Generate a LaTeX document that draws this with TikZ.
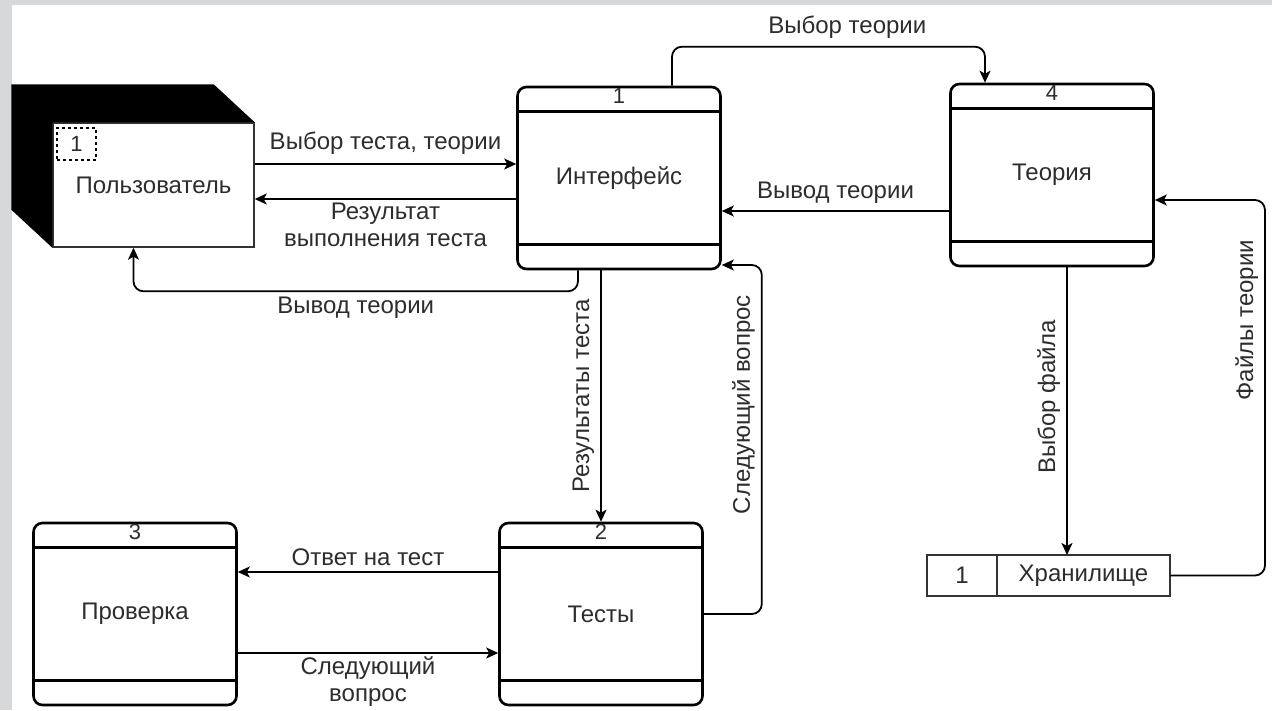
\documentclass[tikz,border=0pt]{standalone}
\usepackage{fontspec}
\setmainfont{Liberation Sans}
\usetikzlibrary{arrows.meta,positioning}
\definecolor{framegray}{RGB}{214,216,218}
\definecolor{inkgray}{RGB}{45,45,45}
\newcommand*\procwd{203pt}
\newcommand*\procht{182pt}
\newcommand*\bandht{26pt}
\newcommand*\lblsize{\fontsize{24}{27}\selectfont}
\tikzset{
    procbox/.style  = {draw, line width=2.6pt, rounded corners=9pt, fill=white,
                      minimum width=\procwd, minimum height=\procht, inner sep=0pt,
                      font=\lblsize, text=inkgray},
    bandline/.style = {line width=2.6pt},
    procnum/.style  = {font=\fontsize{22}{24}\selectfont, text=inkgray, anchor=north, inner sep=2pt},
    entbox/.style   = {draw=black!80, line width=1.4pt, fill=white,
                      minimum width=201pt, minimum height=124pt, inner sep=0pt,
                      font=\lblsize, text=inkgray},
    idbox/.style    = {draw, dashed, line width=1.4pt, anchor=north west,
                      minimum width=39pt, minimum height=32pt, inner sep=0pt,
                      font=\fontsize{22}{24}\selectfont, text=inkgray},
    storecell/.style= {draw=black!80, line width=1.4pt, minimum height=41pt,
                      inner sep=0pt, outer sep=0pt, font=\lblsize, text=inkgray},
    flow/.style     = {draw, line width=1.8pt, -{Stealth[length=12pt,width=11pt,inset=3pt]}},
    flowlbl/.style  = {font=\lblsize, text=inkgray, inner sep=3pt},
}
\begin{document}
\begin{tikzpicture}[x=1pt,y=-1pt]
    % frame of the slide
    \fill[framegray] (0,0) rectangle (1272,710);
    \fill[white] (12,5) rectangle (1272,710);
    \useasboundingbox (0,0) rectangle (1272,710);

    % external entity with its shadow
    \node[entbox] (user) at (153.5,185) {Пользователь};
    \fill[black] ([shift={(-41,-38)}]user.north west) -- ([shift={(-41,-38)}]user.north east)
        -- (user.north east) -- (user.north west) -- (user.south west)
        -- ([shift={(-41,-38)}]user.south west) -- cycle;
    \node[idbox] (userid) at ([shift={(4,5)}]user.north west) {1};

    % processes
    \node[procbox] (iface)  at (619,178) {Интерфейс};
    \node[procbox] (theory) at (1052,175) {Теория};
    \node[procbox] (check)  at (135,614) {Проверка};
    \node[procbox] (tests)  at (601,614) {Тесты};
    \foreach \p/\n in {iface/1,theory/4,check/3,tests/2} {
        \draw[bandline] ([yshift=-\bandht]\p.north west) -- ([yshift=-\bandht]\p.north east);
        \draw[bandline] ([yshift=\bandht]\p.south west) -- ([yshift=\bandht]\p.south east);
        \node[procnum] at (\p.north) {\n};
    }

    % data store
    \node[storecell, minimum width=70pt] (storeid) at (962,575.5) {1};
    \node[storecell, minimum width=173pt, right=0pt of storeid] (store) {Хранилище};

    % user <-> interface
    \coordinate (selT) at ([yshift=21pt]user.east);
    \draw[flow] (selT) -- (selT -| iface.west)
        node[flowlbl, midway, above=6pt] {Выбор теста, теории};
    \coordinate (resT) at ([yshift=-21pt]iface.west);
    \draw[flow] (resT) -- (resT -| user.east)
        node[flowlbl, midway, below=0pt, align=center] {Результат\\выполнения теста};
    \draw[flow, rounded corners=10pt] ([xshift=-41pt]iface.south) -- ++(0,21) -| ([xshift=-20pt]user.south)
        node[flowlbl, pos=0.25, below=2pt] {Вывод теории};

    % interface <-> tests
    \draw[flow] (tests.north |- iface.south) -- (tests.north)
        node[flowlbl, midway, rotate=90, anchor=south, inner sep=6pt] {Результаты теста};
    \draw[flow, rounded corners=10pt] (tests.east) -- ++(58,0) |- ([yshift=-87pt]iface.east)
        node[flowlbl, pos=0.3, rotate=90, anchor=south, inner sep=6pt] {Следующий вопрос};

    % tests <-> check
    \coordinate (ansT) at ([yshift=42pt]tests.west);
    \draw[flow] (ansT) -- (ansT -| check.east)
        node[flowlbl, midway, above=2pt] {Ответ на тест};
    \coordinate (nextQ) at ([yshift=-39pt]check.east);
    \draw[flow] (nextQ) -- (nextQ -| tests.west)
        node[flowlbl, midway, below=0pt, align=center] {Следующий\\вопрос};

    % interface <-> theory
    \draw[flow, rounded corners=10pt] ([xshift=53pt]iface.north) -- ++(0,-39) -| ([xshift=-67pt]theory.north)
        node[flowlbl, pos=0.28, above=4pt] {Выбор теории};
    \coordinate (outT) at ([yshift=-36pt]theory.west);
    \draw[flow] (outT) -- (outT -| iface.east)
        node[flowlbl, midway, above=4pt] {Вывод теории};

    % theory <-> store
    \coordinate (selF) at ([xshift=15pt]theory.south);
    \draw[flow] (selF) -- (selF |- store.north)
        node[flowlbl, pos=0.45, rotate=90, anchor=south, inner sep=6pt] {Выбор файла};
    \draw[flow, rounded corners=10pt] (store.east) -- ++(95,0) |- ([yshift=-25pt]theory.east)
        node[flowlbl, pos=0.34, rotate=90, anchor=south, inner sep=6pt] {Файлы теории};
\end{tikzpicture}
\end{document}
